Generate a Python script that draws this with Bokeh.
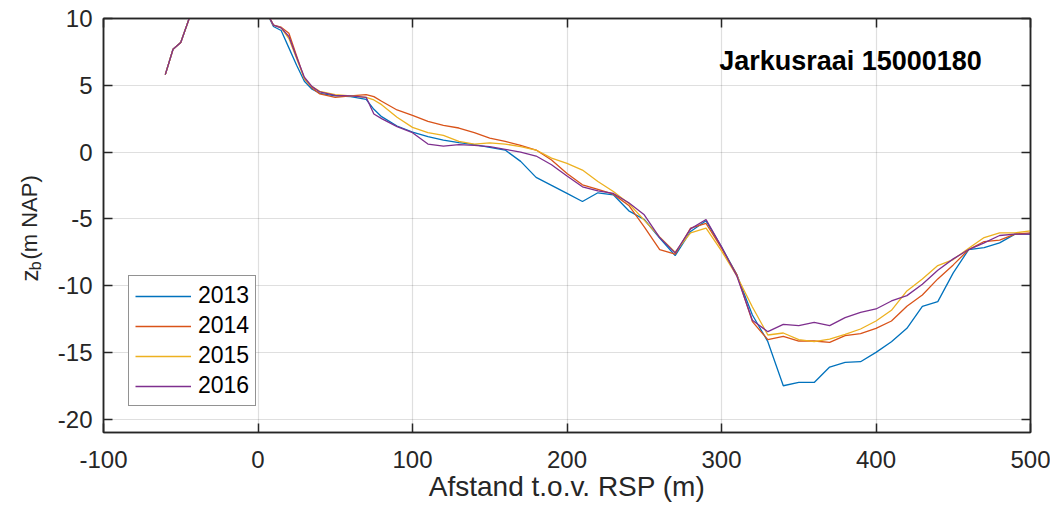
import math
from bokeh.plotting import figure
from bokeh.layouts import row
from bokeh.models import (LinearAxis, Range1d, FixedTicker, Legend, LegendItem, Label)
from bokeh.core.properties import value
from bokeh.embed import file_html
from bokeh.resources import INLINE

# ---------------- data ----------------
x_m = [-60, -55, -50, -40, -30, -20, -10, 0, 5, 10, 15, 20, 25, 30, 35, 40, 50, 60, 70, 75, 80,
       90, 100, 110, 120, 130, 140, 150, 160, 170, 180, 190, 200, 210, 220, 230, 240, 250,
       260, 270, 280, 290, 300, 310, 320, 330, 340, 350, 360, 370, 380, 390, 400, 410, 420,
       430, 440, 450, 460, 470, 480, 490, 500]

dune = [5.8, 7.7, 8.2, 11.5, 13.0, 14.0, 13.5, 12.0, 10.6]

z_2013 = dune + [9.4, 9.1, 7.8, 6.5, 5.3, 4.7, 4.4, 4.2, 4.15, 3.95, 3.2, 2.65,
                 1.95, 1.5, 1.15, 0.9, 0.7, 0.55, 0.35, 0.15, -0.7, -1.9, -2.5, -3.1, -3.7,
                 -3.05, -3.2, -4.4, -5.05, -6.45, -7.75, -5.95, -5.15, -7.1, -9.2, -12.2, -14.2,
                 -17.5, -17.25, -17.25, -16.1, -15.75, -15.7, -15.0, -14.2, -13.2, -11.55, -11.2,
                 -9.05, -7.3, -7.15, -6.8, -6.15, -6.15]

z_2014 = dune + [9.5, 9.35, 8.9, 7.2, 5.5, 4.8, 4.35, 4.1, 4.2, 4.3, 4.15, 3.8,
                 3.15, 2.75, 2.3, 2.0, 1.8, 1.45, 1.05, 0.8, 0.5, 0.15, -0.6, -1.6, -2.45,
                 -2.8, -3.15, -4.0, -5.6, -7.3, -7.65, -5.7, -5.35, -7.2, -9.2, -12.7, -14.05,
                 -13.8, -14.15, -14.15, -14.25, -13.75, -13.6, -13.2, -12.65, -11.55, -10.7, -9.5,
                 -8.45, -7.3, -6.7, -6.6, -6.15, -6.05]

z_2015 = dune + [9.5, 9.3, 8.5, 7.0, 5.5, 4.9, 4.55, 4.3, 4.2, 4.1, 3.9, 3.55,
                 2.6, 1.85, 1.45, 1.25, 0.8, 0.6, 0.68, 0.6, 0.4, 0.15, -0.45, -0.85, -1.35,
                 -2.2, -2.95, -3.85, -5.1, -6.35, -7.5, -6.05, -5.7, -7.4, -9.3, -11.6, -13.7,
                 -13.55, -14.05, -14.2, -14.0, -13.65, -13.25, -12.65, -11.85, -10.4, -9.5, -8.5,
                 -8.05, -7.2, -6.4, -6.05, -6.05, -5.9]

z_2016 = dune + [9.5, 9.3, 8.65, 7.1, 5.6, 4.9, 4.5, 4.25, 4.2, 4.1, 2.85, 2.5,
                 1.9, 1.45, 0.6, 0.45, 0.55, 0.5, 0.4, 0.2, 0.0, -0.3, -0.95, -1.8, -2.6,
                 -2.9, -3.1, -3.8, -4.7, -6.4, -7.55, -5.75, -5.05, -7.1, -9.3, -12.6, -13.45,
                 -12.9, -13.0, -12.75, -13.0, -12.4, -12.0, -11.75, -11.15, -10.75, -9.9, -8.85,
                 -8.0, -7.3, -6.8, -6.25, -6.15, -6.15]

years = ["2013", "2014", "2015", "2016"]
series = [z_2013, z_2014, z_2015, z_2016]
colors = ["#0072BD", "#D95319", "#EDB120", "#7E2F8E"]

x_ticks = [-100, 0, 100, 200, 300, 400, 500]
y_ticks = [-20, -15, -10, -5, 0, 5, 10]

FONT = "Liberation Sans"
AX = "#262626"
H = 510
LW = 50          # width of the strip holding the y-axis label

p = figure(width=1000, height=H, output_backend="svg", toolbar_location=None,
           x_range=Range1d(-100, 500), y_range=Range1d(-21, 10),
           min_border_left=103 - LW, min_border_right=20, min_border_top=18, min_border_bottom=78)
p.background_fill_color = "white"
p.border_fill_color = "white"
p.outline_line_color = AX
p.outline_line_width = 1.5

items = []
for yr, z, c in zip(years, series, colors):
    r = p.line(x_m, z, line_color=c, line_width=1.3)
    items.append(LegendItem(label=yr, renderers=[r]))

def style_axis(ax, ticks, show_labels=True):
    ax.ticker = FixedTicker(ticks=ticks)
    ax.major_tick_in = 9
    ax.major_tick_out = 0
    ax.minor_tick_line_color = None
    ax.axis_line_color = AX
    ax.axis_line_width = 1.5
    ax.major_tick_line_color = AX
    ax.major_tick_line_width = 1.5
    ax.major_label_text_font = FONT
    ax.major_label_text_color = AX
    ax.major_label_overrides = {t: str(t) for t in ticks}
    if show_labels:
        ax.major_label_text_font_size = "24px"
    else:
        ax.major_label_text_alpha = 0
        ax.major_label_text_font_size = "1px"
        ax.major_label_standoff = 0

style_axis(p.xaxis[0], x_ticks)
style_axis(p.yaxis[0], y_ticks)
p.xaxis[0].major_label_standoff = 18
p.yaxis[0].major_label_standoff = 11
p.xaxis[0].axis_label = "Afstand t.o.v. RSP (m)"
p.xaxis[0].axis_label_text_font = FONT
p.xaxis[0].axis_label_text_font_size = "28px"
p.xaxis[0].axis_label_text_font_style = "normal"
p.xaxis[0].axis_label_text_color = AX
p.xaxis[0].axis_label_standoff = 0

top = LinearAxis()
right = LinearAxis()
style_axis(top, x_ticks, False)
style_axis(right, y_ticks, False)
p.add_layout(top, "above")
p.add_layout(right, "right")

for g, ticks in ((p.xgrid[0], x_ticks), (p.ygrid[0], y_ticks)):
    g.ticker = FixedTicker(ticks=ticks)
    g.grid_line_color = AX
    g.grid_line_alpha = 0.15
    g.grid_line_width = 1.2

# annotation title inside the axes
p.add_layout(Label(x=383.5, y=6.8, text="Jarkusraai 15000180",
                   text_font=FONT, text_font_size="27px", text_font_style="bold",
                   text_color="black", text_align="center", text_baseline="alphabetic"))

legend = Legend(items=items, location=(25, 26))
legend.label_text_font = FONT
legend.label_text_font_size = "23px"
legend.label_text_color = "black"
legend.glyph_width = 56
legend.glyph_height = 22
legend.label_height = 22
legend.spacing = 3
legend.padding = 6
legend.margin = 0
legend.label_standoff = 7
legend.border_line_color = AX
legend.border_line_width = 1.2
legend.background_fill_color = "white"
legend.background_fill_alpha = 1.0
p.add_layout(legend, "center")

# ---------- strip with the rotated y-axis label  z_b (m NAP) ----------
s = figure(width=LW, height=H, output_backend="svg", toolbar_location=None,
           x_range=Range1d(0, LW), y_range=Range1d(0, H),
           x_axis_type=None, y_axis_type=None,
           min_border=0, min_border_left=0, min_border_right=0,
           min_border_top=0, min_border_bottom=0)
s.grid.visible = False
s.outline_line_color = None
s.background_fill_color = "white"
s.border_fill_color = "white"
ang = math.pi / 2
s.text(x=[29.0], y=[H - 316.6], text=["z"], angle=ang, text_font=value(FONT),
       text_font_size="24px", text_color=AX, text_align="center", text_baseline="middle")
s.text(x=[35.0], y=[H - 304.5], text=["b"], angle=ang, text_font=value(FONT),
       text_font_size="16px", text_color=AX, text_align="center", text_baseline="middle")
s.text(x=[29.0], y=[H - 245.0], text=["(m NAP)"], angle=ang, text_font=value(FONT),
       text_font_size="22px", text_color=AX, text_align="center", text_baseline="middle")

layout = row(s, p, spacing=0)
open("out.html", "w").write(file_html(layout, INLINE))
